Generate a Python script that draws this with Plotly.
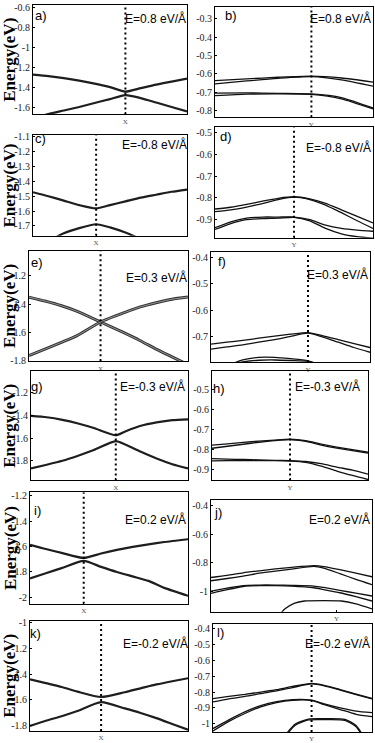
import plotly.graph_objects as go

# ---------------- data (band energies in eV along k, k as fraction of panel path) -------------
a_k = [0, 0.1, 0.2, 0.3, 0.4, 0.5, 0.6, 0.7, 0.8, 0.9, 1.0]
a_b1 = [-1.27, -1.285, -1.305, -1.33, -1.36, -1.395, -1.44, -1.405, -1.37, -1.34, -1.31]
a_b2 = [-1.71, -1.665, -1.63, -1.595, -1.555, -1.515, -1.475, -1.505, -1.55, -1.595, -1.64]
a_sym = 0.60
a_ticks = [-1.6, -1.4, -1.2, -1.0, -0.8, -0.6]

b_k = [0, 0.2, 0.4, 0.61, 0.8, 1.0]
b_b1 = [-0.636, -0.627, -0.618, -0.612, -0.622, -0.644]
b_b2 = [-0.654, -0.638, -0.624, -0.615, -0.632, -0.666]
b_b3 = [-0.704, -0.703, -0.705, -0.708, -0.728, -0.785]
b_b4 = [-0.718, -0.71, -0.708, -0.711, -0.735, -0.79]
b_sym = 0.61
b_ticks = [-0.8, -0.7, -0.6, -0.5, -0.4, -0.3]

c_k = [0, 0.1, 0.2, 0.3, 0.41, 0.5, 0.6, 0.7, 0.8, 0.9, 1.0]
c_b1 = [-1.473, -1.50, -1.53, -1.56, -1.582, -1.56, -1.535, -1.51, -1.49, -1.47, -1.455]
c_b2 = [-1.90, -1.81, -1.75, -1.715, -1.689, -1.71, -1.745, -1.79, -1.84, -1.89, -1.94]
c_sym = 0.41
c_ticks = [-1.7, -1.6, -1.5, -1.4, -1.3, -1.2, -1.1]

d_k = [0, 0.1, 0.2, 0.3, 0.4, 0.5, 0.6, 0.7, 0.8, 0.9, 1.0]
d_b1 = [-0.851, -0.843, -0.830, -0.815, -0.802, -0.795, -0.805, -0.825, -0.855, -0.885, -0.915]
d_b2 = [-0.863, -0.855, -0.842, -0.826, -0.808, -0.797, -0.808, -0.833, -0.868, -0.905, -0.94]
d_b3 = [-0.937, -0.91, -0.893, -0.888, -0.888, -0.888, -0.90, -0.925, -0.94, -0.948, -0.953]
d_b4 = [-0.945, -0.918, -0.90, -0.895, -0.893, -0.889, -0.905, -0.94, -0.965, -0.978, -0.985]
d_sym = 0.50
d_ticks = [-0.9, -0.8, -0.7, -0.6, -0.5]

e_k = [0, 0.1, 0.2, 0.3, 0.45, 0.6, 0.7, 0.8, 0.9, 1.0]
e_b1 = [-1.35, -1.378, -1.41, -1.45, -1.527, -1.605, -1.66, -1.72, -1.775, -1.83]
e_b2 = [-1.765, -1.72, -1.673, -1.625, -1.527, -1.46, -1.42, -1.39, -1.365, -1.35]
e_sym = 0.45
e_ticks = [-1.8, -1.6, -1.4, -1.2]

f_k = [0, 0.1, 0.2, 0.3, 0.4, 0.5, 0.61, 0.7, 0.8, 0.9, 1.0]
f_b1 = [-0.727, -0.72, -0.713, -0.705, -0.697, -0.69, -0.684, -0.695, -0.71, -0.725, -0.74]
f_b2 = [-0.746, -0.738, -0.73, -0.72, -0.71, -0.698, -0.686, -0.70, -0.72, -0.74, -0.758]
f_b3 = [-0.84, -0.81, -0.787, -0.777, -0.777, -0.782, -0.79, -0.81, -0.84, -0.87, -0.90]
f_b4 = [-0.83, -0.805, -0.794, -0.788, -0.787, -0.789, -0.792, -0.81, -0.84, -0.87, -0.90]
f_sym = 0.61
f_ticks = [-0.7, -0.6, -0.5, -0.4]

g_k = [0, 0.1, 0.2, 0.3, 0.4, 0.54, 0.6, 0.7, 0.8, 0.9, 1.0]
g_b1 = [-1.403, -1.415, -1.438, -1.47, -1.51, -1.574, -1.54, -1.49, -1.46, -1.44, -1.433]
g_b2 = [-1.867, -1.835, -1.80, -1.755, -1.705, -1.626, -1.655, -1.72, -1.78, -1.83, -1.867]
g_sym = 0.54
g_ticks = [-1.8, -1.6, -1.4, -1.2]

h_k = [0, 0.1, 0.2, 0.3, 0.4, 0.5, 0.6, 0.7, 0.8, 0.9, 1.0]
h_b1 = [-0.78, -0.774, -0.767, -0.76, -0.755, -0.751, -0.758, -0.775, -0.79, -0.803, -0.816]
h_b2 = [-0.796, -0.786, -0.776, -0.766, -0.758, -0.753, -0.762, -0.78, -0.795, -0.808, -0.82]
h_b3 = [-0.848, -0.85, -0.852, -0.854, -0.856, -0.858, -0.862, -0.873, -0.89, -0.905, -0.925]
h_b4 = [-0.859, -0.858, -0.857, -0.858, -0.858, -0.86, -0.866, -0.885, -0.91, -0.932, -0.952]
h_sym = 0.50
h_ticks = [-0.9, -0.8, -0.7, -0.6, -0.5]

i_k = [0, 0.1, 0.2, 0.34, 0.45, 0.55, 0.65, 0.75, 0.85, 1.0]
i_b1 = [-1.587, -1.62, -1.65, -1.69, -1.655, -1.627, -1.603, -1.583, -1.565, -1.543]
i_b2 = [-1.85, -1.81, -1.77, -1.713, -1.76, -1.80, -1.835, -1.87, -1.925, -1.987]
i_sym = 0.34
i_ticks = [-2.0, -1.8, -1.6, -1.4, -1.2]

j_k = [0, 0.1, 0.2, 0.3, 0.4, 0.5, 0.64, 0.7, 0.8, 0.9, 1.0]
j_b1 = [-0.905, -0.89, -0.872, -0.858, -0.845, -0.834, -0.822, -0.828, -0.85, -0.875, -0.90]
j_b2 = [-0.928, -0.912, -0.895, -0.875, -0.86, -0.846, -0.827, -0.84, -0.878, -0.918, -0.955]
j_b3 = [-1.0, -0.98, -0.962, -0.958, -0.958, -0.96, -0.965, -0.975, -0.995, -1.015, -1.035]
j_b4 = [-1.016, -0.99, -0.968, -0.962, -0.962, -0.965, -0.977, -0.99, -1.012, -1.04, -1.07]
j_k_low = [0.4, 0.46, 0.52, 0.58, 0.7, 0.81, 0.9, 1.0]
j_b5 = [-1.20, -1.125, -1.085, -1.07, -1.067, -1.07, -1.09, -1.125]
j_sym = 0.78
j_ticks = [-1.0, -0.8, -0.6, -0.4]

k_k = [0, 0.1, 0.2, 0.3, 0.45, 0.6, 0.7, 0.8, 0.9, 1.0]
k_b1 = [-1.44, -1.47, -1.50, -1.535, -1.577, -1.54, -1.51, -1.48, -1.455, -1.432]
k_b2 = [-1.80, -1.76, -1.725, -1.685, -1.617, -1.665, -1.70, -1.74, -1.785, -1.83]
k_sym = 0.45
k_ticks = [-1.8, -1.6, -1.4, -1.2, -1.0]

l_k = [0, 0.1, 0.2, 0.3, 0.4, 0.5, 0.62, 0.7, 0.8, 0.9, 1.0]
l_b1 = [-0.841, -0.827, -0.815, -0.80, -0.785, -0.765, -0.746, -0.758, -0.785, -0.813, -0.84]
l_b2 = [-0.862, -0.843, -0.828, -0.81, -0.793, -0.772, -0.749, -0.761, -0.788, -0.816, -0.843]
l_b3 = [-1.03, -0.975, -0.925, -0.885, -0.86, -0.848, -0.851, -0.875, -0.90, -0.92, -0.93]
l_b4 = [-1.045, -0.985, -0.935, -0.893, -0.866, -0.852, -0.853, -0.88, -0.91, -0.94, -0.955]
l_k_low = [0.4, 0.47, 0.52, 0.6, 0.7, 0.83, 0.9, 0.93, 1.0]
l_b5 = [-1.15, -1.052, -1.0, -0.97, -0.968, -0.972, -1.01, -1.052, -1.15]
l_b6 = [-1.16, -1.06, -1.008, -0.976, -0.974, -0.978, -1.018, -1.06, -1.16]
l_sym = 0.62
l_ticks = [-1.0, -0.9, -0.8, -0.7, -0.6, -0.5, -0.4]

tags = ["a)", "b)", "c)", "d)", "e)", "f)", "g)", "h)", "i)", "j)", "k)", "l)"]
fields = ["E=0.8 eV/Å", "E=0.8 eV/Å", "E=-0.8 eV/Å", "E=-0.8 eV/Å",
          "E=0.3 eV/Å", "E=0.3 eV/Å", "E=-0.3 eV/Å", "E=-0.3 eV/Å",
          "E=0.2 eV/Å", "E=0.2 eV/Å", "E=-0.2 eV/Å", "E=-0.2 eV/Å"]
sym_labels = ["X", "Y"] * 6
y_title = "Energy(eV)"

# ---------------- panel assembly ----------------
panels = [
    dict(bands=[(a_k, a_b1), (a_k, a_b2)], sym=a_sym, ticks=a_ticks, style="thick"),
    dict(bands=[(b_k, b_b1), (b_k, b_b2), (b_k, b_b3), (b_k, b_b4)], sym=b_sym, ticks=b_ticks, style="thin"),
    dict(bands=[(c_k, c_b1), (c_k, c_b2)], sym=c_sym, ticks=c_ticks, style="thick"),
    dict(bands=[(d_k, d_b1), (d_k, d_b2), (d_k, d_b3), (d_k, d_b4)], sym=d_sym, ticks=d_ticks, style="thin"),
    dict(bands=[(e_k, e_b1), (e_k, e_b2)], sym=e_sym, ticks=e_ticks, style="double"),
    dict(bands=[(f_k, f_b1), (f_k, f_b2), (f_k, f_b3), (f_k, f_b4)], sym=f_sym, ticks=f_ticks, style="thin"),
    dict(bands=[(g_k, g_b1), (g_k, g_b2)], sym=g_sym, ticks=g_ticks, style="thick"),
    dict(bands=[(h_k, h_b1), (h_k, h_b2), (h_k, h_b3), (h_k, h_b4)], sym=h_sym, ticks=h_ticks, style="thin"),
    dict(bands=[(i_k, i_b1), (i_k, i_b2)], sym=i_sym, ticks=i_ticks, style="thick"),
    dict(bands=[(j_k, j_b1), (j_k, j_b2), (j_k, j_b3), (j_k, j_b4), (j_k_low, j_b5)], sym=j_sym, ticks=j_ticks, style="thin"),
    dict(bands=[(k_k, k_b1), (k_k, k_b2)], sym=k_sym, ticks=k_ticks, style="thick"),
    dict(bands=[(l_k, l_b1), (l_k, l_b2), (l_k, l_b3), (l_k, l_b4), (l_k_low, l_b5), (l_k_low, l_b6)], sym=l_sym, ticks=l_ticks, style="thin"),
]

# ---------------- layout geometry (pixels) ----------------
W, H = 375, 743
boxes = [  # left, right, top, bottom
    (33, 187, 1, 112), (215, 373, 3, 115),
    (33, 187, 133, 235), (215, 373, 125, 237),
    (29, 188, 250, 362), (211, 370, 251, 363),
    (31, 188, 372, 483), (212, 368, 372, 483),
    (30, 188, 495, 608), (211, 372, 503, 616),
    (30, 188, 625, 737), (213, 372, 628, 738),
]
yranges = [
    (-1.67, -0.57), (-0.836, -0.237),
    (-1.767, -1.089), (-0.983, -0.477),
    (-1.805, -1.02), (-0.795, -0.379),
    (-1.974, -1.006), (-0.957, -0.41),
    (-2.05, -1.175), (-1.145, -0.363),
    (-1.84, -0.987), (-1.052, -0.369),
]
tag_pos = [(41, 12), (231, 12), (40, 136), (226, 134), (37, 262), (222, 261),
           (37, 388), (219, 390), (37, 513), (218, 515), (35, 638), (220, 637)]
field_pos = [(188, 15), (373, 15), (189, 142), (373, 145), (189, 277), (370, 274),
             (187, 388), (362, 388), (188, 523), (372, 523), (190, 648), (372, 648)]
dotted = [True] * 9 + [False] + [True] * 2


def px(x):
    return x / W


def py(y):
    return 1 - y / H


fig = go.Figure()
layout = dict(width=W, height=H, margin=dict(l=0, r=0, t=0, b=0),
              paper_bgcolor="white", plot_bgcolor="white", showlegend=False,
              annotations=[], shapes=[])

for n, p in enumerate(panels):
    idx = "" if n == 0 else str(n + 1)
    xa, ya = "x" + idx, "y" + idx
    for kk, ee in p["bands"]:
        if p["style"] == "thick":
            fig.add_trace(go.Scatter(x=kk, y=ee, mode="lines", xaxis=xa, yaxis=ya,
                                     line=dict(color="#1e1e1e", width=2.2, shape="spline", smoothing=0.6),
                                     hoverinfo="skip"))
        elif p["style"] == "double":
            fig.add_trace(go.Scatter(x=kk, y=ee, mode="lines", xaxis=xa, yaxis=ya,
                                     line=dict(color="#333333", width=3, shape="spline", smoothing=0.6),
                                     hoverinfo="skip"))
            fig.add_trace(go.Scatter(x=kk, y=ee, mode="lines", xaxis=xa, yaxis=ya,
                                     line=dict(color="#9a9a9a", width=1, shape="spline", smoothing=0.6),
                                     hoverinfo="skip"))
        else:
            fig.add_trace(go.Scatter(x=kk, y=ee, mode="lines", xaxis=xa, yaxis=ya,
                                     line=dict(color="#111111", width=1.3, shape="spline", smoothing=0.6),
                                     hoverinfo="skip"))
    l, r, t, b = boxes[n]
    layout["xaxis" + idx] = dict(domain=[px(l), px(r)], range=[0, 1], anchor=ya,
                                 showgrid=False, zeroline=False, showline=True, mirror=True,
                                 linecolor="black", linewidth=1, fixedrange=True,
                                 tickmode="array", tickvals=[p["sym"]], ticktext=[sym_labels[n]],
                                 ticks="inside", ticklen=2, tickcolor="black",
                                 tickfont=dict(family="Liberation Serif", size=7, color="#555"))
    layout["yaxis" + idx] = dict(domain=[py(b), py(t)], range=list(yranges[n]), anchor=xa,
                                 showgrid=False, zeroline=False, showline=True, mirror=True,
                                 linecolor="black", linewidth=1, fixedrange=True,
                                 tickmode="array", tickvals=p["ticks"],
                                 ticktext=[f"{v:g}" for v in p["ticks"]],
                                 ticks="inside", ticklen=2, tickcolor="black",
                                 tickfont=dict(family="Liberation Serif", size=10, color="#222"))
    if dotted[n]:
        layout["shapes"].append(dict(type="line", xref=xa, yref=ya, x0=p["sym"], x1=p["sym"],
                                     y0=yranges[n][0], y1=yranges[n][1],
                                     line=dict(color="black", width=2, dash="2px,3px")))
    tx, ty = tag_pos[n]
    layout["annotations"].append(dict(text=tags[n], x=px(tx), y=py(ty), xref="paper", yref="paper",
                                      showarrow=False, xanchor="center", yanchor="middle",
                                      font=dict(family="Liberation Sans", size=13, color="black")))
    fx, fy = field_pos[n]
    layout["annotations"].append(dict(text=fields[n], x=px(fx), y=py(fy), xref="paper", yref="paper",
                                      showarrow=False, xanchor="right", yanchor="middle",
                                      font=dict(family="Liberation Sans", size=12, color="black")))
    if n % 2 == 0:
        layout["annotations"].append(dict(text="<b>" + y_title + "</b>", x=px(10), y=py((t + b) / 2),
                                          xref="paper", yref="paper", showarrow=False, textangle=-90,
                                          xanchor="center", yanchor="middle",
                                          font=dict(family="Liberation Serif", size=17, color="black")))

fig.update_layout(**layout)
fig.write_html("out.html", config={"displayModeBar": False},
               post_script="document.body.style.margin='0';document.body.style.overflow='hidden';")
